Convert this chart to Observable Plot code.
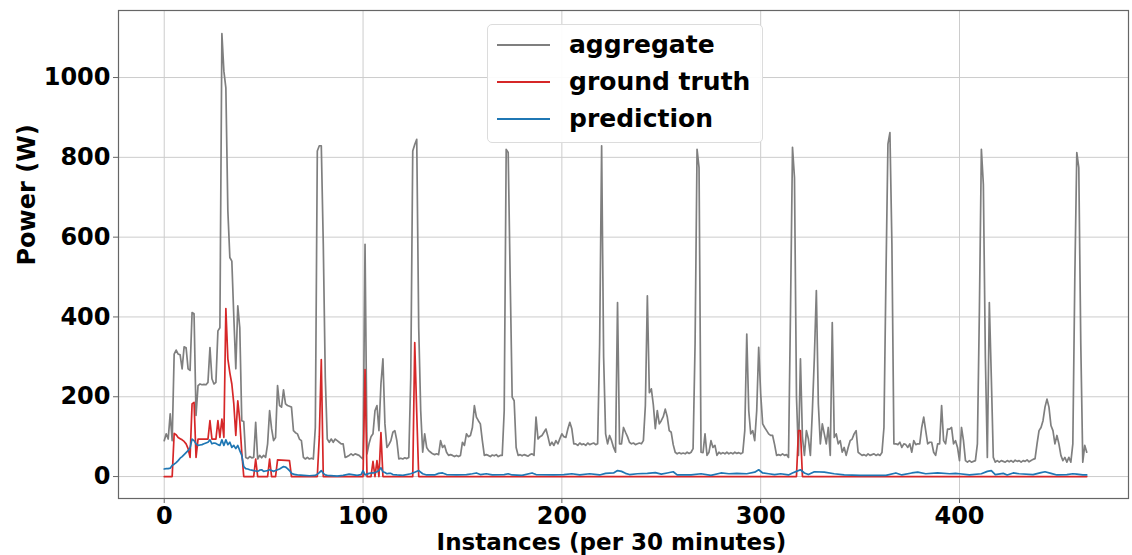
<!DOCTYPE html>
<html>
<head>
<meta charset="utf-8">
<script src="https://cdn.jsdelivr.net/npm/d3@7"></script>
<script src="https://cdn.jsdelivr.net/npm/@observablehq/plot@0.6"></script>
<style>
  html, body { margin: 0; padding: 0; background: #fff; }
  #wrap { position: relative; width: 1132px; height: 555px; }
  #legend {
    position: absolute; left: 487px; top: 24px; width: 274px; height: 117px;
    background: rgba(255,255,255,0.92); border: 1px solid #dcdcdc; border-radius: 5px;
    font-family: "DejaVu Sans", sans-serif; font-weight: bold; font-size: 25px; color: #000;
  }
  .item { position: absolute; left: 0; height: 30px; }
  .item .sw { position: absolute; left: 9px; width: 53px; height: 2px; top: 14px; }
  .item .lb { position: absolute; left: 81px; top: 0; line-height: 30px; white-space: nowrap; }
</style>
</head>
<body>
<div id="wrap"></div>
<script>
// ---- data (instance index, power in W) ----
const seriesNames = ["aggregate", "ground truth", "prediction"];
const seriesColors = ["#7f7f7f", "#d62728", "#1f77b4"];
const xTicks = [0, 100, 200, 300, 400];
const yTicks = [0, 200, 400, 600, 800, 1000];

const aggregate = [[0,90],[1,107],[2,94],[3,157],[4,90],[5,307],[6,317],[7,307],[8,305],[9,270],[10,325],[11,323],[12,270],[13,266],[14,411],[15,408],[16,153],[17,228],[18,232],[19,230],[20,231],[21,230],[22,236],[23,323],[24,245],[25,232],[26,236],[27,365],[28,373],[29,1110],[30,1016],[31,974],[32,666],[33,549],[34,540],[35,400],[36,270],[37,428],[38,373],[39,140],[40,138],[41,48],[42,45],[43,50],[44,47],[45,48],[46,136],[47,44],[48,53],[49,47],[50,53],[51,48],[52,82],[53,165],[54,120],[55,90],[56,98],[57,228],[58,178],[59,174],[60,217],[61,182],[62,178],[63,176],[64,174],[65,115],[66,110],[67,107],[68,94],[69,90],[70,48],[71,44],[72,48],[73,44],[74,46],[75,44],[76,123],[77,816],[78,829],[79,829],[80,582],[81,249],[82,94],[83,86],[84,94],[85,86],[86,94],[87,90],[88,86],[89,82],[90,82],[91,48],[92,50],[93,53],[94,57],[95,53],[96,57],[97,55],[98,53],[99,48],[100,44],[101,582],[102,57],[103,82],[104,100],[105,107],[106,165],[107,178],[108,115],[109,232],[110,295],[111,132],[112,73],[113,80],[114,90],[115,111],[116,115],[117,90],[118,44],[119,46],[120,44],[121,47],[122,45],[123,48],[124,249],[125,816],[126,832],[127,845],[128,373],[129,165],[130,61],[131,107],[132,73],[133,65],[134,61],[135,57],[136,55],[137,57],[138,55],[139,90],[140,73],[141,78],[142,61],[143,53],[144,55],[145,53],[146,50],[147,53],[148,50],[149,53],[150,86],[151,78],[152,107],[153,100],[154,103],[155,123],[156,178],[157,149],[158,140],[159,132],[160,90],[161,53],[162,55],[163,53],[164,50],[165,54],[166,52],[167,55],[168,50],[169,53],[170,53],[171,165],[172,820],[173,812],[174,499],[175,199],[176,190],[177,73],[178,53],[179,55],[180,52],[181,55],[182,53],[183,51],[184,55],[185,57],[186,53],[187,149],[188,94],[189,100],[190,103],[191,111],[192,119],[193,100],[194,78],[195,86],[196,78],[197,90],[198,82],[199,95],[200,107],[201,100],[202,98],[203,119],[204,136],[205,120],[206,82],[207,82],[208,78],[209,84],[210,80],[211,82],[212,78],[213,84],[214,80],[215,82],[216,84],[217,80],[218,82],[219,332],[220,829],[221,300],[222,107],[223,82],[224,103],[225,90],[226,73],[227,61],[228,436],[229,82],[230,82],[231,123],[232,111],[233,100],[234,86],[235,82],[236,84],[237,80],[238,82],[239,84],[240,82],[241,90],[242,178],[243,453],[244,210],[245,220],[246,180],[247,120],[248,165],[249,132],[250,140],[251,150],[252,169],[253,150],[254,115],[255,111],[256,80],[257,61],[258,57],[259,60],[260,57],[261,59],[262,57],[263,61],[264,58],[265,61],[266,70],[267,332],[268,820],[269,774],[270,61],[271,60],[272,107],[273,53],[274,61],[275,90],[276,73],[277,78],[278,53],[279,61],[280,57],[281,60],[282,57],[283,61],[284,57],[285,60],[286,57],[287,61],[288,58],[289,60],[290,57],[291,60],[292,115],[293,357],[294,165],[295,107],[296,115],[297,90],[298,165],[299,324],[300,207],[301,132],[302,123],[303,115],[304,107],[305,103],[306,103],[307,80],[308,53],[309,55],[310,53],[311,57],[312,53],[313,55],[314,48],[315,415],[316,825],[317,749],[318,200],[319,53],[320,295],[321,98],[322,53],[323,115],[324,94],[325,53],[326,165],[327,299],[328,466],[329,182],[330,82],[331,132],[332,107],[333,82],[334,123],[335,53],[336,386],[337,98],[338,107],[339,82],[340,90],[341,61],[342,73],[343,53],[344,73],[345,90],[346,94],[347,107],[348,115],[349,61],[350,57],[351,53],[352,55],[353,52],[354,57],[355,53],[356,55],[357,57],[358,53],[359,56],[360,53],[361,60],[362,123],[363,499],[364,833],[365,862],[366,582],[367,82],[368,82],[369,80],[370,86],[371,73],[372,82],[373,80],[374,73],[375,82],[376,61],[377,90],[378,80],[379,82],[380,82],[381,123],[382,149],[383,115],[384,82],[385,86],[386,86],[387,61],[388,53],[389,82],[390,82],[391,178],[392,90],[393,82],[394,119],[395,119],[396,123],[397,82],[398,90],[399,73],[400,40],[401,123],[402,90],[403,40],[404,36],[405,40],[406,36],[407,38],[408,40],[409,82],[410,415],[411,820],[412,732],[413,300],[414,48],[415,436],[416,249],[417,48],[418,36],[419,40],[420,36],[421,40],[422,38],[423,36],[424,40],[425,37],[426,40],[427,36],[428,41],[429,38],[430,40],[431,36],[432,40],[433,38],[434,42],[435,37],[436,40],[437,43],[438,45],[439,82],[440,115],[441,123],[442,140],[443,174],[444,194],[445,174],[446,128],[447,115],[448,82],[449,103],[450,82],[451,53],[452,40],[453,48],[454,36],[455,48],[456,36],[457,82],[458,499],[459,812],[460,774],[461,332],[462,36],[463,78],[464,61]];

const groundTruth = [[0,0],[4,0],[5,108],[6,105],[7,98],[8,95],[9,92],[10,88],[11,82],[12,70],[13,48],[14,182],[15,186],[16,48],[17,94],[18,94],[22,94],[23,140],[24,94],[26,94],[27,140],[28,98],[29,144],[30,98],[31,421],[32,295],[33,260],[34,232],[35,182],[36,103],[37,190],[38,140],[39,60],[40,0],[45,0],[46,44],[47,0],[52,0],[53,44],[54,0],[56,0],[57,42],[63,40],[64,0],[77,0],[78,100],[79,293],[80,0],[100,0],[101,268],[102,0],[104,0],[105,38],[106,0],[107,40],[108,0],[109,110],[110,0],[125,0],[126,336],[127,160],[128,0],[318,0],[319,115],[320,115],[321,0],[464,0]];

const prediction = [[0,19],[1,20],[2,20],[3,21],[4,28],[5,31],[6,35],[7,40],[8,46],[9,50],[10,55],[11,60],[12,65],[13,72],[14,94],[15,90],[16,82],[17,78],[18,79],[19,80],[20,82],[21,84],[22,86],[23,92],[24,82],[25,84],[26,83],[27,80],[28,78],[29,92],[30,78],[31,92],[32,80],[33,86],[34,73],[35,78],[36,70],[37,78],[38,65],[39,53],[40,25],[41,20],[42,19],[43,17],[44,16],[45,15],[46,14],[47,13],[48,16],[49,17],[50,13],[51,14],[52,15],[53,17],[54,15],[55,13],[56,15],[57,17],[58,19],[59,22],[60,25],[61,24],[62,20],[63,15],[64,8],[65,6],[66,5],[67,4],[70,3],[73,2],[76,3],[77,6],[78,10],[79,15],[80,8],[81,4],[82,3],[87,1],[90,3],[93,6],[97,3],[99,5],[100,15],[101,4],[102,6],[103,8],[105,9],[106,10],[107,12],[108,15],[109,22],[110,12],[111,10],[112,7],[113,8],[114,8],[115,5],[117,4],[120,3],[124,7],[126,11],[128,15],[130,7],[132,4],[136,4],[138,8],[140,9],[142,5],[147,4],[152,5],[155,7],[157,9],[159,5],[162,7],[165,4],[171,5],[173,7],[175,4],[180,3],[185,9],[187,5],[196,4],[201,5],[205,7],[209,4],[214,7],[219,4],[222,8],[226,9],[228,15],[230,13],[232,8],[234,5],[238,7],[243,8],[247,10],[250,6],[253,9],[256,12],[258,4],[265,4],[270,7],[275,3],[280,9],[284,7],[288,8],[293,7],[297,11],[299,17],[301,9],[304,7],[307,5],[310,7],[314,4],[316,9],[318,13],[320,17],[322,9],[324,5],[327,12],[332,11],[337,7],[342,4],[350,3],[355,3],[363,3],[368,9],[371,4],[376,9],[379,11],[383,7],[389,9],[395,7],[398,8],[400,7],[405,4],[411,7],[414,13],[416,15],[418,5],[422,8],[424,4],[427,9],[430,7],[437,5],[441,10],[443,12],[446,8],[449,4],[454,5],[457,7],[459,6],[462,4],[464,4]];

const xLabel = "Instances (per 30 minutes)";
const yLabel = "Power (W)";

// ---- build ----
const seriesData = [aggregate, groundTruth, prediction];
const font = {fontFamily: "DejaVu Sans", fontWeight: "bold"};

const chart = Plot.plot({
  width: 1132,
  height: 555,
  marginLeft: 118,
  marginRight: 4,
  marginTop: 10,
  marginBottom: 57,
  style: {fontFamily: "DejaVu Sans", fontWeight: "bold", fontSize: "24px", color: "#000", background: "#fff"},
  x: {domain: [-23, 485]},
  y: {domain: [-55, 1168]},
  marks: [
    Plot.gridX(xTicks, {stroke: "#cccccc", strokeOpacity: 1, strokeWidth: 1}),
    Plot.gridY(yTicks, {stroke: "#cccccc", strokeOpacity: 1, strokeWidth: 1}),
    ...seriesData.map((s, i) => Plot.line(s, {x: d => d[0], y: d => d[1], stroke: seriesColors[i], strokeWidth: 1.7})),
    Plot.frame({stroke: "#666", strokeWidth: 1.2}),
    Plot.axisX(xTicks, {tickSize: 5, tickPadding: 3, stroke: "#666", label: null, fill: "#000", tickFormat: d => String(d)}),
    Plot.axisY(yTicks, {tickSize: 5, tickPadding: 3, stroke: "#666", label: null, fill: "#000", tickFormat: d => String(d)}),
    Plot.text([xLabel], {text: d => d, frameAnchor: "bottom", dy: 44, dx: -12, lineAnchor: "middle", fontSize: 23, ...font, fill: "#000"}),
    Plot.text([yLabel], {text: d => d, frameAnchor: "left", dx: -91, dy: 11, rotate: -90, lineAnchor: "middle", fontSize: 24, ...font, fill: "#000"})
  ]
});

const wrap = document.getElementById("wrap");
wrap.appendChild(chart);

const legend = document.createElement("div");
legend.id = "legend";
const rowTops = [5, 42, 79];
seriesNames.forEach((name, i) => {
  const it = document.createElement("div");
  it.className = "item";
  it.style.top = rowTops[i] + "px";
  const sw = document.createElement("div");
  sw.className = "sw";
  sw.style.background = seriesColors[i];
  const lb = document.createElement("div");
  lb.className = "lb";
  lb.textContent = name;
  it.appendChild(sw); it.appendChild(lb);
  legend.appendChild(it);
});
wrap.appendChild(legend);
</script>
</body>
</html>
